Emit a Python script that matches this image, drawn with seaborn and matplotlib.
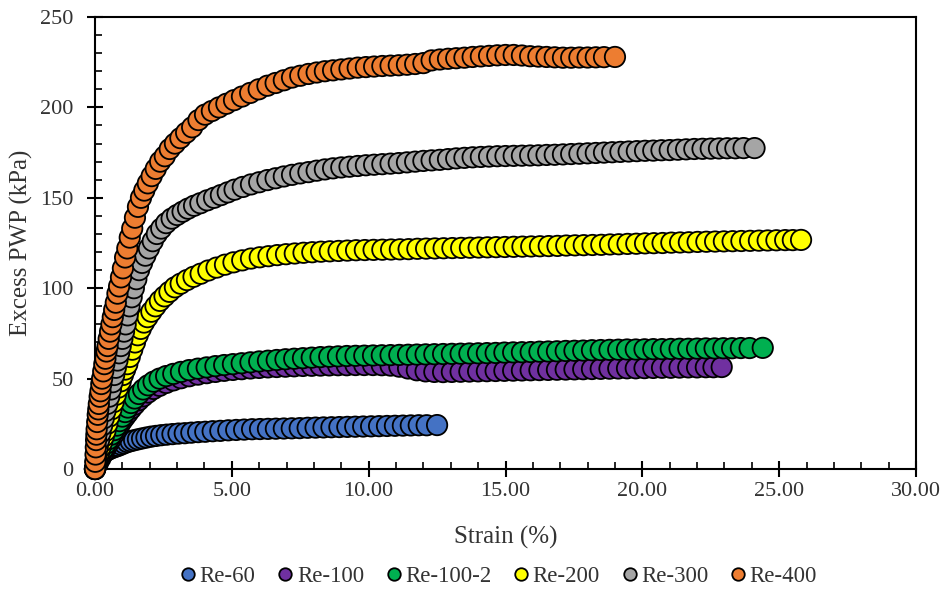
import numpy as np
import pandas as pd
import matplotlib
matplotlib.use("Agg")
import matplotlib.pyplot as plt
from matplotlib.lines import Line2D
from matplotlib.ticker import MultipleLocator, FormatStrFormatter
import seaborn as sns

# ---- measured data: strain (%) vs excess pore-water pressure (kPa) ----
re60_strain = [0.00, 0.03, 0.06, 0.10, 0.15, 0.20, 0.26, 0.32, 0.40, 0.48, 0.56, 0.65, 0.74, 0.84,
               0.95, 1.06, 1.18, 1.30, 1.43, 1.57, 1.72, 1.88, 2.05, 2.23, 2.42, 2.62, 2.83, 3.05,
               3.28, 3.52, 3.77, 4.03, 4.30, 4.58, 4.87, 5.16, 5.45, 5.74, 6.03, 6.32, 6.61, 6.90,
               7.19, 7.48, 7.77, 8.06, 8.35, 8.64, 8.93, 9.22, 9.51, 9.80, 10.09, 10.38, 10.67,
               10.96, 11.25, 11.54, 11.83, 12.12, 12.50]
re60_pwp = [0.0, 1.5, 3.0, 4.5, 6.0, 7.2, 8.3, 9.2, 10.0, 10.7, 11.3, 11.8, 12.3, 12.8,
            13.5, 14.2, 14.9, 15.4, 15.9, 16.4, 16.9, 17.4, 17.9, 18.3, 18.7, 19.0, 19.3, 19.6,
            19.8, 20.1, 20.4, 20.6, 20.9, 21.1, 21.4, 21.6, 21.8, 22.0, 22.1, 22.2, 22.3, 22.4,
            22.5, 22.6, 22.8, 22.9, 23.0, 23.1, 23.2, 23.3, 23.4, 23.5, 23.6, 23.7, 23.8,
            23.9, 24.0, 24.1, 24.2, 24.2, 24.3]

re100_strain = [0.0, 0.1, 0.2, 0.3, 0.4, 0.5, 0.6, 0.7, 0.8, 0.9, 1.0, 1.1, 1.2, 1.32, 1.45, 1.6,
                1.76, 1.94, 2.14, 2.36, 2.6, 2.86, 3.14, 3.44, 3.76, 4.08, 4.4, 4.72, 5.04, 5.36,
                5.68, 6.0, 6.32, 6.64, 6.96, 7.28, 7.6, 7.92, 8.24, 8.56, 8.88, 9.2, 9.52, 9.84,
                10.16, 10.48, 10.8, 11.12, 11.44, 11.76, 12.08, 12.4, 12.72, 13.04, 13.36, 13.68,
                14.0, 14.32, 14.64, 14.96, 15.28, 15.6, 15.92, 16.24, 16.56, 16.88, 17.2, 17.52,
                17.84, 18.16, 18.48, 18.8, 19.12, 19.44, 19.76, 20.08, 20.4, 20.72, 21.04, 21.36,
                21.68, 22.0, 22.32, 22.6, 22.9]
re100_pwp = [0.0, 3.0, 6.0, 9.0, 12.0, 14.5, 17.0, 19.5, 22.0, 24.5, 27.0, 29.0, 31.0, 33.3, 35.6,
             38.0, 40.2, 42.3, 44.3, 46.0, 47.6, 49.0, 50.2, 51.3, 52.2, 53.0, 53.7, 54.3, 54.8,
             55.2, 55.6, 55.9, 56.2, 56.4, 56.6, 56.8, 57.0, 57.1, 57.2, 57.3, 57.4, 57.4, 57.5,
             57.5, 57.5, 57.4, 57.2, 56.6, 55.6, 54.6, 54.0, 53.7, 53.6, 53.7, 53.8, 53.9, 54.0,
             54.1, 54.2, 54.3, 54.4, 54.5, 54.6, 54.7, 54.8, 54.9, 55.0, 55.1, 55.2, 55.3, 55.4,
             55.5, 55.6, 55.7, 55.7, 55.8, 55.9, 56.0, 56.0, 56.1, 56.2, 56.2, 56.3, 56.3, 56.4]

re100_2_strain = [0.0, 0.1, 0.2, 0.3, 0.4, 0.5, 0.6, 0.7, 0.8, 0.9, 1.0, 1.1, 1.2, 1.32, 1.45, 1.6,
                  1.76, 1.94, 2.14, 2.36, 2.6, 2.86, 3.14, 3.44, 3.76, 4.08, 4.4, 4.72, 5.04, 5.36,
                  5.68, 6.0, 6.32, 6.64, 6.96, 7.28, 7.6, 7.92, 8.24, 8.56, 8.88, 9.2, 9.52, 9.84,
                  10.16, 10.48, 10.8, 11.12, 11.44, 11.76, 12.08, 12.4, 12.72, 13.04, 13.36, 13.68,
                  14.0, 14.32, 14.64, 14.96, 15.28, 15.6, 15.92, 16.24, 16.56, 16.88, 17.2, 17.52,
                  17.84, 18.16, 18.48, 18.8, 19.12, 19.44, 19.76, 20.08, 20.4, 20.72, 21.04, 21.36,
                  21.68, 22.0, 22.32, 22.64, 22.96, 23.28, 23.6, 23.92, 24.4]
re100_2_pwp = [0.0, 4.0, 8.0, 11.0, 14.0, 16.5, 19.0, 21.5, 24.0, 26.5, 29.0, 31.5, 34.0, 36.5, 39.0,
               41.5, 44.0, 46.3, 48.3, 50.0, 51.4, 52.6, 53.7, 54.7, 55.5, 56.2, 56.9, 57.5, 58.0,
               58.5, 59.0, 59.5, 59.9, 60.3, 60.7, 61.0, 61.3, 61.6, 61.9, 62.1, 62.3, 62.5, 62.6,
               62.7, 62.8, 62.9, 63.0, 63.1, 63.2, 63.3, 63.4, 63.5, 63.6, 63.7, 63.8, 63.9, 64.0,
               64.1, 64.2, 64.4, 64.5, 64.6, 64.7, 64.9, 65.0, 65.1, 65.3, 65.4, 65.5, 65.7, 65.8,
               65.9, 66.0, 66.1, 66.1, 66.2, 66.3, 66.3, 66.4, 66.5, 66.5, 66.6, 66.7, 66.7, 66.8,
               66.8, 66.9, 66.9, 67.0]

re200_strain = [0.0, 0.05, 0.1, 0.15, 0.2, 0.26, 0.32, 0.38, 0.45, 0.52, 0.6, 0.68, 0.76, 0.85,
                0.94, 1.02, 1.1, 1.18, 1.27, 1.36, 1.46, 1.56, 1.67, 1.79, 1.92, 2.06, 2.21, 2.37,
                2.54, 2.72, 2.92, 3.13, 3.36, 3.6, 3.86, 4.14, 4.44, 4.75, 5.06, 5.38, 5.7, 6.02,
                6.34, 6.66, 6.98, 7.3, 7.62, 7.94, 8.26, 8.58, 8.9, 9.22, 9.54, 9.86, 10.18, 10.5,
                10.82, 11.14, 11.46, 11.78, 12.1, 12.42, 12.74, 13.06, 13.38, 13.7, 14.02, 14.34,
                14.66, 14.98, 15.3, 15.62, 15.94, 16.26, 16.58, 16.9, 17.22, 17.54, 17.86, 18.18,
                18.5, 18.82, 19.14, 19.46, 19.78, 20.1, 20.42, 20.74, 21.06, 21.38, 21.7, 22.02,
                22.34, 22.66, 22.98, 23.3, 23.62, 23.94, 24.26, 24.58, 24.9, 25.22, 25.5, 25.8]
re200_pwp = [0.0, 3.0, 6.0, 9.0, 12.0, 15.0, 18.0, 21.0, 25.0, 29.0, 33.0, 37.0, 41.0, 45.0,
             48.5, 52.0, 55.0, 58.0, 62.0, 66.0, 70.0, 74.0, 77.5, 81.0, 84.0, 87.0, 90.0, 93.0,
             95.5, 98.0, 100.5, 102.5, 104.5, 106.3, 108.0, 109.8, 111.4, 113.0, 114.3, 115.4,
             116.4, 117.1, 117.7, 118.3, 118.8, 119.2, 119.6, 119.9, 120.2, 120.4, 120.6, 120.8,
             121.0, 121.1, 121.2, 121.3, 121.4, 121.5, 121.6, 121.8, 121.9, 122.0, 122.1, 122.2,
             122.3, 122.4, 122.5, 122.6, 122.7, 122.8, 122.9, 123.0, 123.1, 123.2, 123.3, 123.4,
             123.6, 123.7, 123.8, 123.9, 124.0, 124.2, 124.3, 124.5, 124.6, 124.8, 124.9, 125.0,
             125.2, 125.3, 125.4, 125.6, 125.7, 125.8, 125.9, 126.0, 126.1, 126.2, 126.3, 126.4,
             126.5, 126.6, 126.6, 126.7]

re300_strain = [0.0, 0.03, 0.06, 0.1, 0.15, 0.2, 0.26, 0.32, 0.38, 0.45, 0.52, 0.58, 0.64, 0.7,
                0.76, 0.82, 0.88, 0.94, 1.0, 1.06, 1.12, 1.19, 1.26, 1.34, 1.42, 1.51, 1.61, 1.72,
                1.84, 1.97, 2.11, 2.26, 2.42, 2.6, 2.8, 3.0, 3.2, 3.4, 3.62, 3.85, 4.1, 4.35, 4.6,
                4.85, 5.1, 5.4, 5.7, 6.0, 6.3, 6.6, 6.9, 7.2, 7.5, 7.8, 8.1, 8.4, 8.7, 9.0, 9.3,
                9.6, 9.9, 10.2, 10.5, 10.8, 11.1, 11.4, 11.7, 12.0, 12.3, 12.6, 12.9, 13.2, 13.5,
                13.8, 14.1, 14.4, 14.7, 15.0, 15.3, 15.6, 15.9, 16.2, 16.5, 16.8, 17.1, 17.4, 17.7,
                18.0, 18.3, 18.6, 18.9, 19.2, 19.5, 19.8, 20.1, 20.4, 20.7, 21.0, 21.3, 21.6, 21.9,
                22.2, 22.5, 22.8, 23.1, 23.4, 23.7, 24.1]
re300_pwp = [0.0, 4.0, 8.0, 12.0, 16.0, 20.0, 24.0, 28.0, 32.0, 36.0, 40.0, 44.0, 48.0, 52.0,
             56.0, 60.0, 64.0, 68.0, 72.0, 76.0, 80.0, 85.0, 90.0, 95.0, 100.0, 105.0, 110.0,
             114.0, 118.0, 122.0, 126.0, 130.0, 133.0, 136.0, 138.5, 140.5, 142.3, 144.0, 145.6,
             147.0, 148.6, 150.0, 151.5, 153.0, 154.5, 156.0, 157.4, 158.6, 159.8, 160.8, 161.8,
             162.7, 163.5, 164.2, 165.0, 165.7, 166.3, 166.8, 167.2, 167.6, 168.0, 168.3, 168.6,
             168.9, 169.2, 169.6, 170.0, 170.4, 170.7, 171.0, 171.4, 171.8, 172.1, 172.4, 172.6,
             172.8, 173.0, 173.1, 173.2, 173.3, 173.4, 173.5, 173.7, 173.8, 174.0, 174.2, 174.4,
             174.6, 174.8, 175.0, 175.2, 175.4, 175.6, 175.8, 176.0, 176.1, 176.3, 176.4, 176.6,
             176.8, 177.0, 177.1, 177.2, 177.3, 177.4, 177.4, 177.5, 177.5]

re400_strain = [0.00, 0.01, 0.02, 0.03, 0.04, 0.05, 0.06, 0.08, 0.10, 0.12, 0.14, 0.17, 0.20, 0.23,
                0.26, 0.30, 0.34, 0.38, 0.42, 0.46, 0.50, 0.55, 0.60, 0.65, 0.70, 0.76, 0.82, 0.88,
                0.95, 1.02, 1.10, 1.18, 1.27, 1.36, 1.46, 1.57, 1.68, 1.80, 1.93, 2.07, 2.22, 2.38,
                2.55, 2.73, 2.92, 3.12, 3.33, 3.55, 3.78, 4.02, 4.27, 4.53, 4.80, 5.08, 5.37, 5.67,
                5.98, 6.30, 6.60, 6.90, 7.20, 7.50, 7.80, 8.10, 8.40, 8.70, 9.00, 9.30, 9.60, 9.90,
                10.20, 10.50, 10.80, 11.10, 11.40, 11.70, 12.00, 12.30, 12.60, 12.90, 13.20, 13.50,
                13.80, 14.10, 14.40, 14.70, 15.00, 15.30, 15.60, 15.90, 16.20, 16.50, 16.80, 17.10,
                17.40, 17.70, 18.00, 18.30, 18.60, 19.00]
re400_pwp = [0, 4, 8, 12, 16, 19, 22, 26, 30, 33, 36, 40, 43, 47, 50, 54, 58, 61, 65, 68, 72, 76,
             80, 84, 88, 92, 97, 101, 106, 111, 117, 122, 128, 133, 139, 145, 150, 154, 158, 162,
             166, 170, 173, 177, 180, 183, 186, 189, 193, 196, 198, 200, 202, 204, 206, 208, 210,
             212, 213.5, 215, 216.5, 217.5, 218.5, 219.3, 220, 220.5, 221, 221.5, 222, 222.3,
             222.6, 222.9, 223.1, 223.3, 223.6, 224, 224.5, 226, 226.5, 226.9, 227.2, 227.5,
             227.9, 228.2, 228.5, 228.8, 229, 229, 228.7, 228.3, 228.1, 227.9, 227.7, 227.5,
             227.5, 227.6, 227.6, 227.7, 227.8, 227.9]

series_names = ["Re-60", "Re-100", "Re-100-2", "Re-200", "Re-300", "Re-400"]
series_colors = ["#4472C4", "#7030A0", "#00B050", "#FFFF00", "#A5A5A5", "#ED7D31"]
series_strain = [re60_strain, re100_strain, re100_2_strain, re200_strain, re300_strain, re400_strain]
series_pwp = [re60_pwp, re100_pwp, re100_2_pwp, re200_pwp, re300_pwp, re400_pwp]

frames = []
for name, xs, ys in zip(series_names, series_strain, series_pwp):
    frames.append(pd.DataFrame({"Strain": xs, "PWP": ys, "Test": name}))
df = pd.concat(frames, ignore_index=True)

sns.set_theme(style="white")
plt.rcParams["font.family"] = ["Liberation Serif", "DejaVu Serif"]

text_color = "#333333"

fig = plt.figure(figsize=(9.46, 5.91), dpi=100)
ax = fig.add_axes([95 / 946, 1 - 469 / 591, (916 - 95) / 946, (469 - 17) / 591])

sns.scatterplot(data=df, x="Strain", y="PWP", hue="Test", hue_order=series_names,
                palette=series_colors, s=215, edgecolor="black", linewidth=1.3,
                legend=False, ax=ax, clip_on=False, zorder=3)

ax.set_xlim(0, 30)
ax.set_ylim(0, 250)
ax.xaxis.set_major_locator(MultipleLocator(5))
ax.xaxis.set_minor_locator(MultipleLocator(1))
ax.yaxis.set_major_locator(MultipleLocator(50))
ax.yaxis.set_minor_locator(MultipleLocator(10))
ax.xaxis.set_major_formatter(FormatStrFormatter("%.2f"))
ax.yaxis.set_major_formatter(FormatStrFormatter("%d"))

for side in ["left", "right", "top", "bottom"]:
    ax.spines[side].set_visible(True)
    ax.spines[side].set_color("black")
    ax.spines[side].set_linewidth(1.5)

ax.tick_params(which="major", direction="inout", length=11, width=1.5, color="black",
               labelsize=16, labelcolor=text_color, bottom=True, left=True, top=False,
               right=False)
ax.tick_params(axis="y", which="major", pad=10)
ax.tick_params(axis="x", which="major", pad=4)
ax.tick_params(which="minor", direction="in", length=5, width=1.2, color="black",
               bottom=True, left=True, top=False, right=False)

ax.set_xlabel("Strain (%)", fontsize=18, color=text_color, labelpad=18)
ax.set_ylabel("Excess PWP (kPa)", fontsize=18, color=text_color, labelpad=5)
ax.grid(False)

handles = [Line2D([0], [0], marker="o", linestyle="none", markersize=9,
                  markerfacecolor=c, markeredgecolor="black", markeredgewidth=1.3)
           for c in series_colors]
fig.legend(handles, series_names, loc="center", bbox_to_anchor=(497 / 946, 1 - 576 / 591),
           ncol=6, frameon=False, fontsize=16.5, handletextpad=0.0, columnspacing=0.8,
           handlelength=1.0, labelcolor=text_color)

fig.savefig("out.png", dpi=100)
